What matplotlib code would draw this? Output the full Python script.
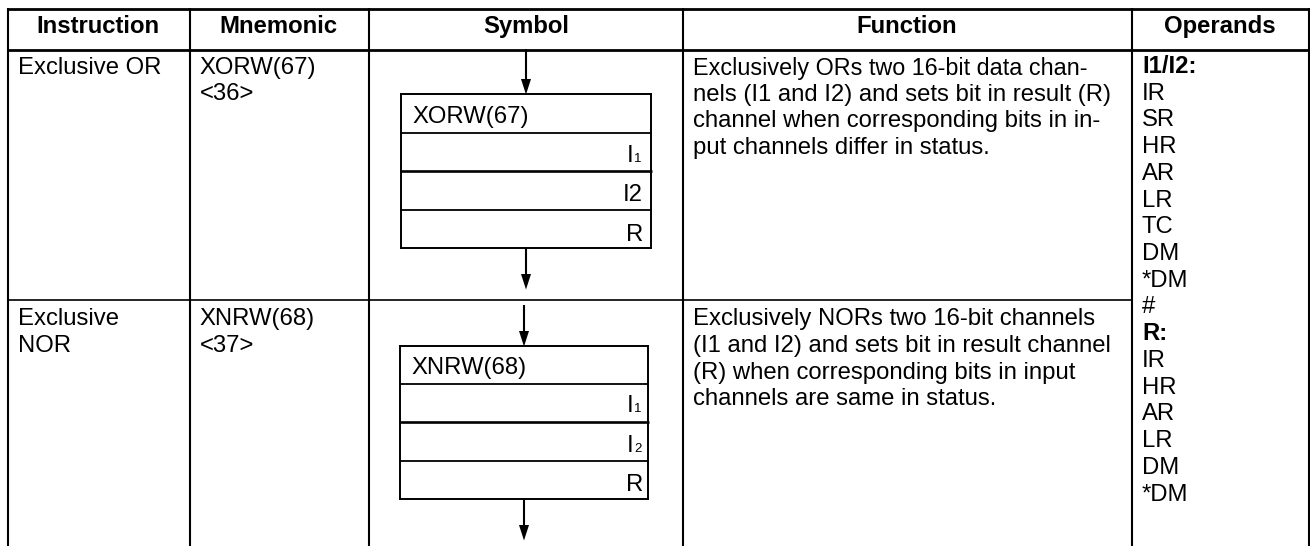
import matplotlib
matplotlib.use('Agg')
import matplotlib.pyplot as plt

plt.rcParams['font.family'] = ['Liberation Sans', 'DejaVu Sans']

# table content
headers = ['Instruction', 'Mnemonic', 'Symbol', 'Function', 'Operands']
instructions = [['Exclusive OR'], ['Exclusive', 'NOR']]
mnemonics = [['XORW(67)', '<36>'], ['XNRW(68)', '<37>']]
symbols = ['XORW(67)', 'XNRW(68)']
functions = [
    ['Exclusively ORs two 16-bit data chan-',
     'nels (I1 and I2) and sets bit in result (R)',
     'channel when corresponding bits in in-',
     'put channels differ in status.'],
    ['Exclusively NORs two 16-bit channels',
     '(I1 and I2) and sets bit in result channel',
     '(R) when corresponding bits in input',
     'channels are same in status.'],
]
operands = ['I1/I2:', 'IR', 'SR', 'HR', 'AR', 'LR', 'TC', 'DM', '*DM', '#',
            'R:', 'IR', 'HR', 'AR', 'LR', 'DM', '*DM']
bold_operands = ['I1/I2:', 'R:']

fs = 17.2
W, H = 1310, 546
fig = plt.figure(figsize=(W/100, H/100), dpi=100)
ax = fig.add_axes([0, 0, 1, 1])
ax.set_xlim(0, W)
ax.set_ylim(H, 0)
ax.axis('off')

# grid lines
col_x = [8, 190, 369.3, 683, 1132, 1309]
for x in col_x:
    ax.plot([x, x], [8, 546], color='k', lw=1.5, solid_capstyle='butt')
ax.plot([7, 1310], [8.5, 8.5], color='k', lw=2, solid_capstyle='butt')
ax.plot([7, 1310], [49.5, 49.5], color='k', lw=2, solid_capstyle='butt')
ax.plot([8, 1132], [300, 300], color='k', lw=1.2, solid_capstyle='butt')

# header row
head_x = [98, 278.5, 526, 907, 1220]
for x, s in zip(head_x, headers):
    ax.text(x, 33, s, ha='center', va='baseline', fontsize=fs, fontweight='bold')

# body text
row_y = [74, 325]
for i, y0 in enumerate(row_y):
    for j, s in enumerate(instructions[i]):
        ax.text(18, y0 + j*26.5, s, fontsize=fs, va='baseline')
    for j, s in enumerate(mnemonics[i]):
        ax.text(199.5, y0 + j*26.5, s, fontsize=fs, va='baseline')
    for j, s in enumerate(functions[i]):
        # first line is set a bit tighter in the original
        size = 16.8 if (i, j) == (0, 0) else fs
        ax.text(693, y0 + 0.5 + j*26.5, s, fontsize=size, va='baseline')

for j, s in enumerate(operands):
    ax.text(1142, 73 + j*26.72, s, fontsize=fs, va='baseline',
            fontweight='bold' if s in bold_operands else 'normal')

# ladder symbols
def symbol(x0, x1, ys, arrow_x, top, bottom, name, second, offs):
    for y, w in zip(ys, [1.4, 1.3, 1.9, 1.3, 1.4]):
        ax.plot([x0 - 1, x1 + 1], [y, y], color='k', lw=w, solid_capstyle='butt')
    for x in (x0, x1):
        ax.plot([x, x], [ys[0] - 1, ys[-1] + 1], color='k', lw=1.4, solid_capstyle='butt')
    for y_a, y_b in ((top, ys[0]), (ys[-1], bottom)):
        ax.plot([arrow_x, arrow_x], [y_a, y_b - 8], color='k', lw=1.5, solid_capstyle='butt')
        ax.fill([arrow_x - 5, arrow_x + 5, arrow_x], [y_b - 15, y_b - 15, y_b + 0.5], color='k', lw=0)
    ax.text(x0 + 11, ys[0] + offs[0], name, fontsize=fs, va='baseline')
    # operand labels inside the box
    ax.text(627, ys[1] + offs[1], 'I', fontsize=fs, va='baseline')
    ax.text(634, ys[1] + offs[1], '1', fontsize=9.5, va='baseline')
    if second == 'I2':
        ax.text(643, ys[2] + offs[2], 'I2', fontsize=fs, va='baseline', ha='right')
    else:
        ax.text(627, ys[2] + offs[2], 'I', fontsize=fs, va='baseline')
        ax.text(634, ys[2] + offs[2], '2', fontsize=9.5, va='baseline')
    ax.text(643, ys[3] + offs[3], 'R', fontsize=fs, va='baseline', ha='right')

symbol(401, 651, [94, 133, 171, 210, 248], 526, 49, 289, symbols[0], 'I2', [29, 29, 30, 31])
symbol(400, 648, [346, 384, 422, 461, 499], 524, 305, 540, symbols[1], 'sub', [28, 28, 30, 30])

fig.savefig('out.png', dpi=100)
